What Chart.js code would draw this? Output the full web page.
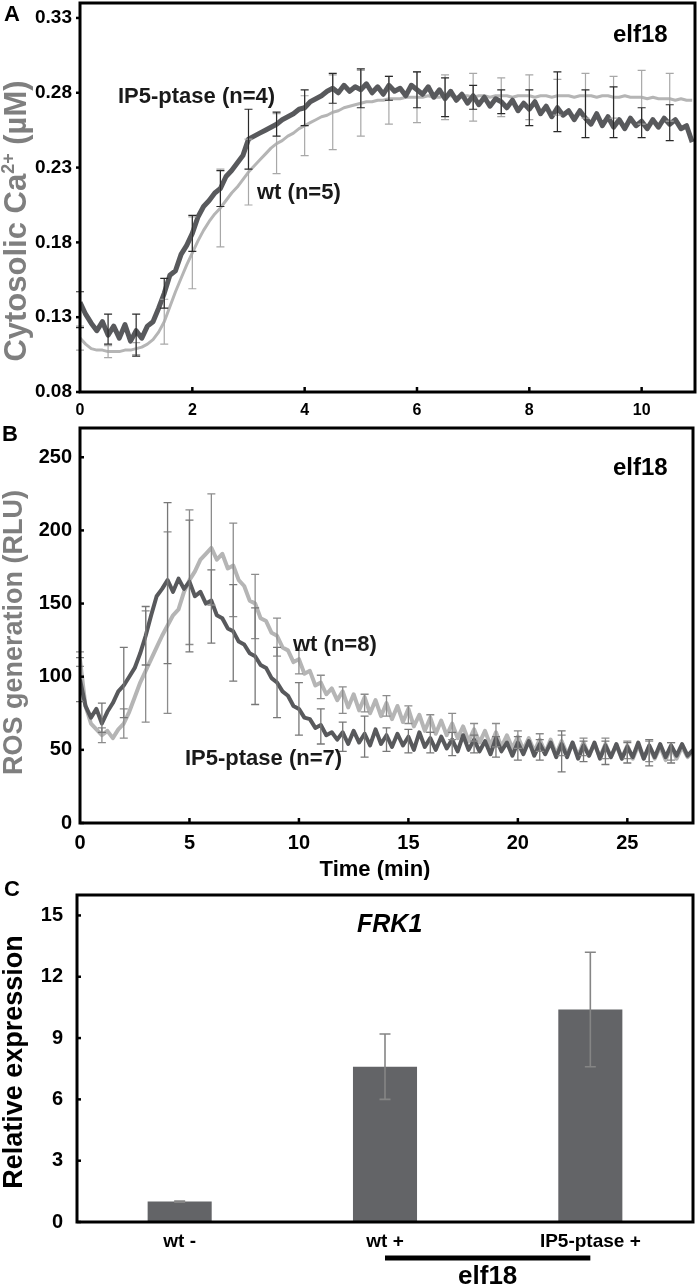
<!DOCTYPE html>
<html><head><meta charset="utf-8">
<script src="https://cdn.jsdelivr.net/npm/chart.js@4.4.1/dist/chart.umd.min.js"></script>
<style>
html,body{margin:0;padding:0;background:#fff;}
body{width:700px;height:1288px;position:relative;overflow:hidden;}
.p{position:absolute;left:0;width:700px;}
canvas{display:block;}
</style></head><body>
<div class="p" style="top:0;height:425px"><canvas id="cA" width="700" height="425"></canvas></div>
<div class="p" style="top:425px;height:455px"><canvas id="cB" width="700" height="455"></canvas></div>
<div class="p" style="top:880px;height:408px"><canvas id="cC" width="700" height="408"></canvas></div>
<script>
// ---------------- Panel A data (cytosolic Ca2+, sampled every 0.1 min) ----------------
const aStep = 0.1;
const aIP5 = [
0.140,0.132,0.126,0.121,0.127,0.118,0.124,0.116,0.125,0.114,
0.121,0.116,0.124,0.127,0.136,0.146,0.158,0.161,0.172,0.178,
0.186,0.197,0.204,0.208,0.213,0.216,0.224,0.228,0.233,0.238,
0.249,0.251,0.253,0.255,0.257,0.259,0.262,0.264,0.266,0.269,
0.270,0.274,0.276,0.278,0.281,0.283,0.280,0.285,0.281,0.284,
0.282,0.286,0.280,0.284,0.279,0.285,0.281,0.283,0.278,0.285,
0.282,0.279,0.284,0.277,0.282,0.276,0.281,0.275,0.279,0.273,
0.278,0.272,0.277,0.271,0.276,0.274,0.270,0.275,0.268,0.273,
0.269,0.274,0.266,0.271,0.264,0.270,0.265,0.268,0.262,0.268,
0.263,0.259,0.266,0.258,0.264,0.257,0.262,0.256,0.263,0.258,
0.261,0.256,0.262,0.257,0.263,0.259,0.262,0.256,0.258,0.247];
const aWT = [
0.116,0.112,0.109,0.108,0.108,0.107,0.107,0.107,0.108,0.108,
0.109,0.110,0.112,0.115,0.120,0.127,0.137,0.147,0.156,0.165,
0.173,0.181,0.188,0.194,0.199,0.203,0.208,0.213,0.217,0.222,
0.227,0.231,0.235,0.239,0.243,0.246,0.248,0.251,0.253,0.256,
0.258,0.260,0.262,0.264,0.265,0.267,0.268,0.270,0.271,0.272,
0.273,0.274,0.274,0.275,0.275,0.276,0.276,0.276,0.277,0.277,
0.277,0.277,0.278,0.277,0.277,0.278,0.278,0.277,0.278,0.278,
0.277,0.278,0.278,0.277,0.278,0.278,0.278,0.277,0.278,0.278,
0.278,0.277,0.278,0.278,0.277,0.278,0.278,0.278,0.277,0.278,
0.278,0.278,0.277,0.278,0.278,0.277,0.277,0.278,0.277,0.277,
0.277,0.276,0.277,0.276,0.276,0.276,0.275,0.276,0.275,0.275];
const aErrTimes = [0,0.5,1,1.5,2,2.5,3,3.5,4,4.5,5,5.5,6,6.5,7,7.5,8,8.5,9,9.5,10,10.5];
const aIP5Mean = [0.135,0.122,0.118,0.146,0.186,0.216,0.249,0.259,0.270,0.283,0.283,0.283,0.282,0.277,0.277,0.274,0.270,0.274,0.266,0.267,0.260,0.260];
const aIP5Sd   = [0.012,0.010,0.014,0.010,0.012,0.012,0.020,0.008,0.012,0.010,0.013,0.008,0.012,0.013,0.008,0.008,0.012,0.020,0.016,0.017,0.010,0.012];
const aWTMean  = [0.116,0.107,0.109,0.127,0.173,0.203,0.227,0.246,0.258,0.267,0.273,0.275,0.277,0.277,0.277,0.277,0.277,0.277,0.278,0.277,0.277,0.277];
const aWTSd    = [0.008,0.004,0.004,0.015,0.024,0.026,0.022,0.020,0.020,0.025,0.022,0.016,0.017,0.015,0.016,0.013,0.015,0.012,0.015,0.014,0.018,0.016];
const aXTicks = [0,2,4,6,8,10];
const aYTicks = [0.08,0.13,0.18,0.23,0.28,0.33];

// ---------------- Panel B data (ROS, sampled every 0.25 min) ----------------
const bStep = 0.25;
const bIP5 = [
98,80,72,78,68,76,82,90,
94,100,106,116,128,142,155,160,
166,158,167,160,165,155,158,150,
152,142,140,133,131,124,122,116,
114,108,106,99,96,90,87,80,
78,72,71,65,67,60,62,57,
62,54,63,55,61,53,64,54,
60,52,61,53,59,50,62,52,
58,50,59,51,57,49,60,50,
57,49,56,47,58,49,55,46,
55,47,56,46,54,47,55,45,
54,45,55,44,53,46,55,44,
53,45,54,44,52,45,55,44,
53,45,54,45,53,46,54,46,
50];
const bWT = [
112,80,68,64,60,63,58,64,
68,76,86,96,104,112,120,128,
135,142,146,158,166,172,180,184,
188,180,184,174,176,166,162,152,
150,140,138,130,128,120,118,110,
112,102,104,94,96,88,92,84,
90,79,88,77,86,75,84,73,
82,71,80,69,78,66,74,63,
72,61,70,60,68,58,66,56,
64,55,63,53,62,52,60,51,
59,50,58,49,57,48,57,47,
56,47,55,46,55,46,54,45,
54,45,53,44,53,44,53,44,
52,44,52,43,52,44,52,45,
49];
const bErrTimes = [0,1,2,3,4,5,6,7,8,9,10,11,12,13,14,15,16,17,18,19,20,21,22,23,24,25,26,27];
const bIP5Mean = [98,72,96,128,164,162,148,130,114,96,78,66,59,59,57,56,55,54,54,52,51,50,49,49,48,48,48,48];
const bIP5Sd   = [15,10,24,20,55,45,25,33,33,24,18,12,10,14,8,8,7,8,6,7,8,7,14,7,8,7,9,7];
const bWTMean  = [112,60,68,107,137,168,187,173,148,127,110,93,84,82,80,74,68,66,62,60,57,55,53,52,51,50,49,49];
const bWTSd    = [5,5,10,38,62,46,38,32,22,13,8,8,9,6,7,6,6,9,6,8,6,6,7,6,7,6,7,6];
const bXTicks = [0,5,10,15,20,25];
const bYTicks = [0,50,100,150,200,250];

// ---------------- Panel C data (FRK1 expression) ----------------
const cCats = ['wt -', 'wt +', 'IP5-ptase +'];
const cVals = [1.0, 7.6, 10.4];
const cErr  = [0.03, 1.6, 2.8];
const cYTicks = [0,3,6,9,12,15];

// ---------------- helpers ----------------
const FAM = '"Liberation Sans", Arial, Helvetica, sans-serif';
Chart.defaults.font.family = FAM;
Chart.defaults.color = '#000';
const DARK = '#58595c';
const LIGHT = '#b5b5b5';
const GRAYTXT = '#7f7f7f';

function series(vals, step){ return vals.map((v,i)=>({x: Math.round(i*step*100)/100, y: v})); }
function fixTicks(arr){ return s => { s.ticks = arr.map(v=>({value:v})); }; }
function fixW(w){ return s => { s.width = w; s.paddingTop = 0; s.paddingBottom = 0; }; }
function fixH(h){ return s => { s.height = h; s.paddingLeft = 0; s.paddingRight = 0; }; }
function box(ctx, ca){ ctx.save(); ctx.strokeStyle='#000'; ctx.lineWidth=3; ctx.strokeRect(ca.left, ca.top, ca.right-ca.left, ca.bottom-ca.top); ctx.restore(); }
function errBars(chart, xs, means, sds, color, cap, lw){
  const sx = chart.scales.x, sy = chart.scales.y, ctx = chart.ctx;
  ctx.save(); ctx.strokeStyle = color; ctx.lineWidth = lw;
  xs.forEach((t,i)=>{
    const x = sx.getPixelForValue(t);
    const y1 = sy.getPixelForValue(means[i]+sds[i]);
    const y2 = sy.getPixelForValue(means[i]-sds[i]);
    ctx.beginPath();
    ctx.moveTo(x,y1); ctx.lineTo(x,y2);
    ctx.moveTo(x-cap,y1); ctx.lineTo(x+cap,y1);
    ctx.moveTo(x-cap,y2); ctx.lineTo(x+cap,y2);
    ctx.stroke();
  });
  ctx.restore();
}
function txt(ctx, s, x, y, font, color, align){
  ctx.save(); ctx.font = font; ctx.fillStyle = color || '#000'; ctx.textAlign = align || 'left'; ctx.textBaseline = 'middle';
  ctx.fillText(s, x, y); ctx.restore();
}
function vtxt(ctx, s, x, y, font, color){
  ctx.save(); ctx.translate(x, y); ctx.rotate(-Math.PI/2);
  ctx.font = font; ctx.fillStyle = color; ctx.textAlign='center'; ctx.textBaseline='middle';
  ctx.fillText(s, 0, 0); ctx.restore();
}
function xMarks(chart, vals, len, inside){
  const sx = chart.scales.x, ca = chart.chartArea, ctx = chart.ctx;
  ctx.save(); ctx.strokeStyle='#000'; ctx.lineWidth=2.5;
  vals.forEach(v=>{ if (v===sx.min) return; const x = sx.getPixelForValue(v); ctx.beginPath(); ctx.moveTo(x, ca.bottom); ctx.lineTo(x, inside ? ca.bottom-len : ca.bottom+len); ctx.stroke(); });
  ctx.restore();
}
function yMarks(chart, vals, len, inside){
  const sy = chart.scales.y, ca = chart.chartArea, ctx = chart.ctx;
  ctx.save(); ctx.strokeStyle='#000'; ctx.lineWidth=2.5;
  vals.forEach(v=>{ const y = sy.getPixelForValue(v); ctx.beginPath(); ctx.moveTo(ca.left, y); ctx.lineTo(inside ? ca.left+len : ca.left-len, y); ctx.stroke(); });
  ctx.restore();
}
const commonPlugins = { legend:{display:false}, tooltip:{enabled:false} };

// ---------------- Chart A ----------------
new Chart(document.getElementById('cA'), {
  type: 'line',
  data: { datasets: [
    { data: series(aIP5, aStep), borderColor: DARK, borderWidth: 5, pointRadius: 0, tension: 0, borderJoinStyle:'round' },
    { data: series(aWT, aStep), borderColor: LIGHT, borderWidth: 3, pointRadius: 0, tension: 0, borderJoinStyle:'round' }
  ]},
  options: {
    responsive: false, animation: false, devicePixelRatio: 1,
    layout: { padding: { top: 3, right: 5, left: 0, bottom: 0 } },
    plugins: commonPlugins,
    scales: {
      x: { type:'linear', min:0, max:10.95, afterBuildTicks: fixTicks(aXTicks), afterFit: fixH(33),
           grid:{display:false, drawTicks:false}, border:{display:false},
           ticks:{ padding: 9, font:{size:16, weight:'bold'}, maxRotation:0 } },
      y: { min:0.08, max:0.34, afterBuildTicks: fixTicks(aYTicks), afterFit: fixW(80),
           grid:{display:false, drawTicks:false}, border:{display:false},
           ticks:{ padding: 8, font:{size:19, weight:'bold'}, callback: v => v.toFixed(2) } }
    }
  },
  plugins: [{
    id:'decoA',
    afterDatasetsDraw(chart){
      const ctx = chart.ctx;
      errBars(chart, aErrTimes, aWTMean, aWTSd, '#a8a8a8', 4, 1.2);
      errBars(chart, aErrTimes, aIP5Mean, aIP5Sd, '#2a2a2a', 4, 1.2);
      box(ctx, chart.chartArea);
      xMarks(chart, aXTicks, 5, true);
      yMarks(chart, aYTicks, 4, false);
      txt(ctx, 'A', 4, 15, 'bold 22px '+FAM, '#000');
      txt(ctx, 'elf18', 613, 35, 'bold 24px '+FAM, '#000');
      txt(ctx, 'IP5-ptase (n=4)', 118, 97, 'bold 22px '+FAM, '#1a1a1a');
      txt(ctx, 'wt (n=5)', 257, 193, 'bold 22px '+FAM, '#1a1a1a');
      // y title with superscript
      ctx.save(); ctx.translate(17, 221); ctx.rotate(-Math.PI/2);
      ctx.fillStyle = GRAYTXT; ctx.textBaseline = 'middle'; ctx.textAlign = 'left';
      const big = 'bold 31px '+FAM, small = 'bold 18px '+FAM;
      ctx.font = big; const w1 = ctx.measureText('Cytosolic Ca').width; const w3 = ctx.measureText(' (µM)').width;
      ctx.font = small; const w2 = ctx.measureText('2+').width;
      let x0 = -(w1+w2+w3)/2;
      ctx.font = big; ctx.fillText('Cytosolic Ca', x0, 0); x0 += w1;
      ctx.font = small; ctx.fillText('2+', x0, -8); x0 += w2;
      ctx.font = big; ctx.fillText(' (µM)', x0, 0);
      ctx.restore();
    }
  }]
});

// ---------------- Chart B ----------------
new Chart(document.getElementById('cB'), {
  type: 'line',
  data: { datasets: [
    { data: series(bIP5, bStep), borderColor: DARK, borderWidth: 4, pointRadius: 0, tension: 0, borderJoinStyle:'round' },
    { data: series(bWT, bStep), borderColor: LIGHT, borderWidth: 4, pointRadius: 0, tension: 0, borderJoinStyle:'round' }
  ]},
  options: {
    responsive: false, animation: false, devicePixelRatio: 1,
    layout: { padding: { top: 3, right: 7, left: 0, bottom: 0 } },
    plugins: commonPlugins,
    scales: {
      x: { type:'linear', min:0, max:28, afterBuildTicks: fixTicks(bXTicks), afterFit: fixH(57),
           grid:{display:false, drawTicks:false}, border:{display:false},
           ticks:{ padding: 8, font:{size:20, weight:'bold'}, maxRotation:0 } },
      y: { min:0, max:270, afterBuildTicks: fixTicks(bYTicks), afterFit: fixW(80),
           grid:{display:false, drawTicks:false}, border:{display:false},
           ticks:{ padding: 8, font:{size:20, weight:'bold'} } }
    }
  },
  plugins: [{
    id:'decoB',
    afterDatasetsDraw(chart){
      const ctx = chart.ctx;
      errBars(chart, bErrTimes, bWTMean, bWTSd, '#8c8c8c', 4, 1.3);
      errBars(chart, bErrTimes, bIP5Mean, bIP5Sd, '#777777', 4, 1.3);
      box(ctx, chart.chartArea);
      xMarks(chart, bXTicks, 5, true);
      yMarks(chart, bYTicks, 4, true);
      txt(ctx, 'B', 2, 10, 'bold 22px '+FAM, '#000');
      txt(ctx, 'elf18', 613, 43, 'bold 24px '+FAM, '#000');
      txt(ctx, 'wt (n=8)', 293, 220, 'bold 22px '+FAM, '#1a1a1a');
      txt(ctx, 'IP5-ptase (n=7)', 185, 334, 'bold 22px '+FAM, '#1a1a1a');
      txt(ctx, 'Time (min)', 375, 445, 'bold 22px '+FAM, '#000', 'center');
      vtxt(ctx, 'ROS generation (RLU)', 15, 207.5, 'bold 27px '+FAM, GRAYTXT);
    }
  }]
});

// ---------------- Chart C ----------------
new Chart(document.getElementById('cC'), {
  type: 'bar',
  data: { labels: cCats, datasets: [
    { data: cVals, backgroundColor: '#636467', borderWidth: 0, categoryPercentage: 1, barPercentage: 0.312 }
  ]},
  options: {
    responsive: false, animation: false, devicePixelRatio: 1,
    layout: { padding: { top: 15, right: 7, left: 0, bottom: 0 } },
    plugins: commonPlugins,
    scales: {
      x: { afterFit: fixH(66), grid:{display:false, drawTicks:false}, border:{display:false},
           ticks:{ padding: 8, font:{size:19, weight:'bold'}, maxRotation:0 } },
      y: { min:0, max:16, afterBuildTicks: fixTicks(cYTicks), afterFit: fixW(77),
           grid:{display:false, drawTicks:false}, border:{display:false},
           ticks:{ padding: 14, font:{size:20, weight:'bold'} } }
    }
  },
  plugins: [{
    id:'decoC',
    afterDatasetsDraw(chart){
      const ctx = chart.ctx, sx = chart.scales.x, ca = chart.chartArea;
      errBars(chart, [0,1,2], cVals, cErr, '#858585', 5.5, 1.6);
      box(ctx, ca);
      yMarks(chart, cYTicks, 4, true);
      txt(ctx, 'C', 4, 10, 'bold 22px '+FAM, '#000');
      txt(ctx, 'FRK1', 357, 45, 'italic bold 25px '+FAM, '#000');
      const x1 = sx.getPixelForValue(1), x2 = sx.getPixelForValue(2);
      ctx.save(); ctx.strokeStyle='#000'; ctx.lineWidth=5; ctx.beginPath(); ctx.moveTo(x1, 378); ctx.lineTo(x2, 378); ctx.stroke(); ctx.restore();
      txt(ctx, 'elf18', (x1+x2)/2, 397, 'bold 26px '+FAM, '#000', 'center');
      vtxt(ctx, 'Relative expression', 15, 182, 'bold 27px '+FAM, '#000');
    }
  }]
});
</script>
</body></html>
